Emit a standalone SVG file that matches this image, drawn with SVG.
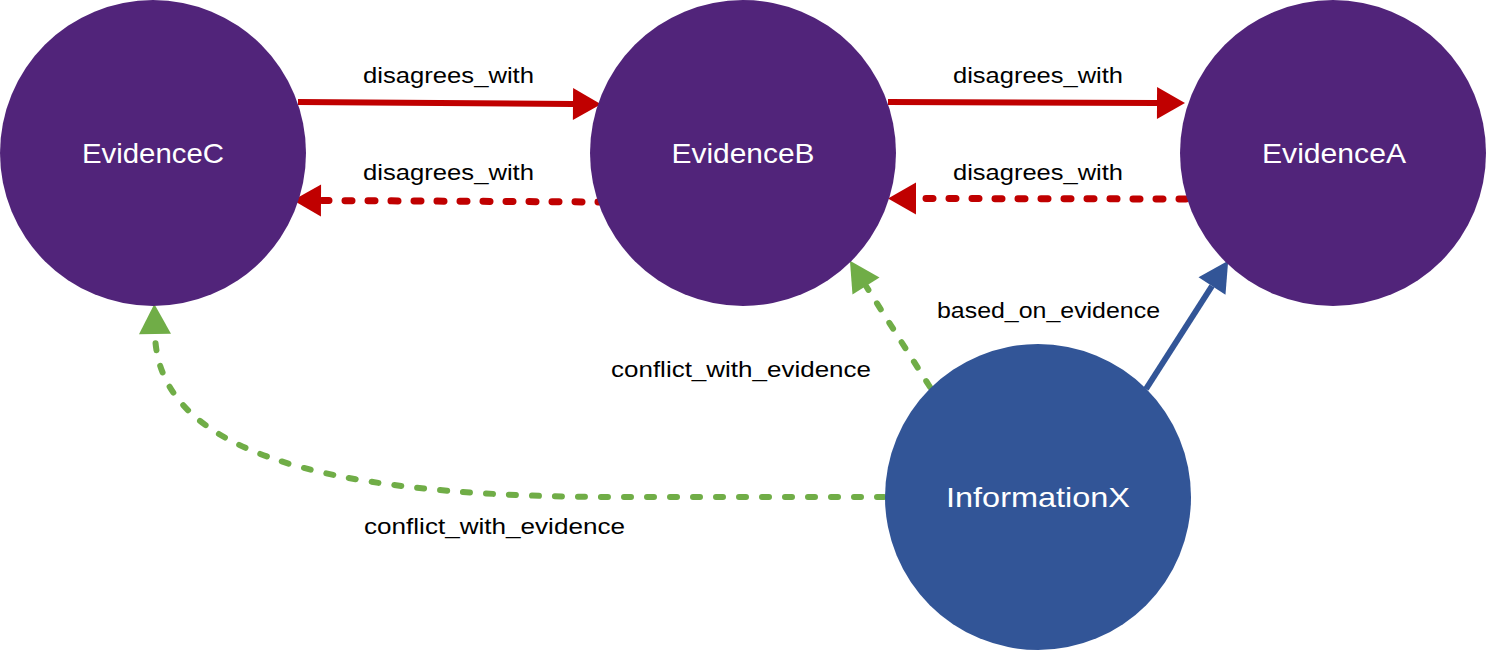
<svg xmlns="http://www.w3.org/2000/svg" width="1488" height="652" viewBox="0 0 1488 652">
<style>
.ev{fill:#51247A}
.info{fill:#325597}
.nl{font-family:"Liberation Sans",Arial,sans-serif;font-size:28px;fill:#ffffff;text-anchor:middle}
.el{font-family:"Liberation Sans",Arial,sans-serif;font-size:22px;fill:#000000}
.red{stroke:#C00000;stroke-width:6;fill:none}
.redd{stroke:#C00000;stroke-width:7;fill:none;stroke-dasharray:7 16;stroke-linecap:round}
.grn{stroke:#70AD47;stroke-width:6;fill:none;stroke-dasharray:7 16;stroke-linecap:round}
.blu{stroke:#325597;stroke-width:6;fill:none}
</style>
<defs>
<marker id="mr" markerUnits="userSpaceOnUse" markerWidth="28" markerHeight="32" refX="0" refY="16" orient="auto" overflow="visible"><path d="M0,0 L28,16 L0,32 z" fill="#C00000"/></marker>
<marker id="mg" markerUnits="userSpaceOnUse" markerWidth="30" markerHeight="32" refX="0" refY="16" orient="auto" overflow="visible"><path d="M0,0 L30,16 L0,32 z" fill="#70AD47"/></marker>
<marker id="mb" markerUnits="userSpaceOnUse" markerWidth="30" markerHeight="32" refX="0" refY="16" orient="auto" overflow="visible"><path d="M0,0 L30,16 L0,32 z" fill="#325597"/></marker>
</defs>
<rect width="1488" height="652" fill="#ffffff"/>
<g id="connectors">
<path class="red" d="M298,102 L573,104" marker-end="url(#mr)"/>
<path class="red" d="M888,102 L1157,103" marker-end="url(#mr)"/>
<path class="redd" d="M1186,199 L916,198.5" marker-end="url(#mr)"/>
<path class="redd" d="M605,202 L321,200.5" marker-end="url(#mr)"/>
<path class="grn" d="M930,387 L866,286" marker-end="url(#mg)"/>
<path class="grn" d="M884,497 L620,497 C380,497 158,470 155,334" marker-end="url(#mg)"/>
<path class="blu" d="M1146,389 L1212,286" marker-end="url(#mb)"/>
</g>
<g id="labels">
<text class="el" x="363" y="83" textLength="171" lengthAdjust="spacingAndGlyphs">disagrees_with</text>
<text class="el" x="363" y="180" textLength="171" lengthAdjust="spacingAndGlyphs">disagrees_with</text>
<text class="el" x="953" y="83" textLength="170" lengthAdjust="spacingAndGlyphs">disagrees_with</text>
<text class="el" x="953" y="180" textLength="170" lengthAdjust="spacingAndGlyphs">disagrees_with</text>
<text class="el" x="937" y="318" textLength="223" lengthAdjust="spacingAndGlyphs">based_on_evidence</text>
<text class="el" x="611" y="377" textLength="260" lengthAdjust="spacingAndGlyphs">conflict_with_evidence</text>
<text class="el" x="364" y="534" textLength="261" lengthAdjust="spacingAndGlyphs">conflict_with_evidence</text>
</g>
<g id="EvidenceC"><circle class="ev" cx="153" cy="153" r="153"/><text class="nl" x="153" y="163" textLength="142" lengthAdjust="spacingAndGlyphs">EvidenceC</text></g>
<g id="EvidenceB"><circle class="ev" cx="743" cy="153" r="153"/><text class="nl" x="743" y="163" textLength="143" lengthAdjust="spacingAndGlyphs">EvidenceB</text></g>
<g id="EvidenceA"><circle class="ev" cx="1333" cy="153" r="153"/><text class="nl" x="1334" y="163" textLength="144" lengthAdjust="spacingAndGlyphs">EvidenceA</text></g>
<g id="InformationX"><circle class="info" cx="1038" cy="497" r="153"/><text class="nl" x="1038" y="507" textLength="184" lengthAdjust="spacingAndGlyphs">InformationX</text></g>
</svg>
